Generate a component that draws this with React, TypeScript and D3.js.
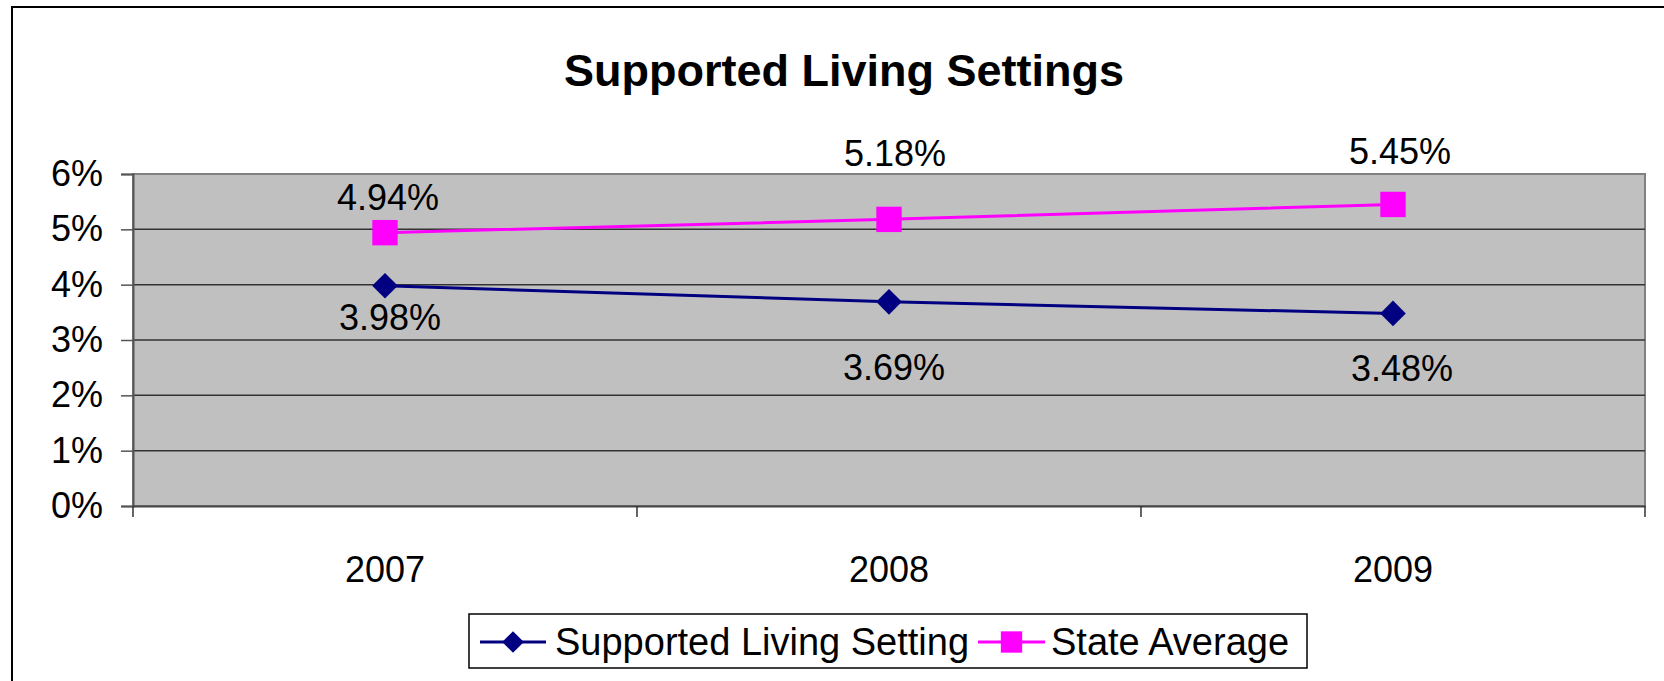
import { useRef, useEffect } from "react";
import * as d3 from "d3";

const years = ["2007", "2008", "2009"];
const supportedLiving = [0.0398, 0.0369, 0.0348];
const stateAverage = [0.0494, 0.0518, 0.0545];
const yTicks = [0, 0.01, 0.02, 0.03, 0.04, 0.05, 0.06];
const seriesNames = ["Supported Living Setting", "State Average"];

// hand-placed label nudges (dx, dy) as in the original sheet
const supportedLabelNudge = [[5, 44], [5, 78], [9, 68]];
const stateLabelNudge = [[3, -23], [6, -53], [7, -40]];

const W = 1664;
const H = 681;
const FONT = "'Liberation Sans', Arial, sans-serif";

const App = () => {
  const ref = useRef<HTMLDivElement>(null);

  useEffect(() => {
    const plot = { left: 133, right: 1645, top: 174, bottom: 506 };

    const svg = d3
      .select(ref.current)
      .html("")
      .append("svg")
      .attr("width", W)
      .attr("height", H)
      .style("display", "block")
      .style("font-family", FONT);

    svg.append("rect").attr("width", W).attr("height", H).attr("fill", "#fff");
    svg
      .append("rect")
      .attr("x", 12)
      .attr("y", 7)
      .attr("width", W)
      .attr("height", H)
      .attr("fill", "none")
      .attr("stroke", "#000")
      .attr("stroke-width", 2);

    svg
      .append("text")
      .attr("x", 844)
      .attr("y", 86)
      .attr("text-anchor", "middle")
      .attr("font-size", 45)
      .attr("font-weight", "bold")
      .text("Supported Living Settings");

    const x = d3.scaleBand().domain(years).range([plot.left, plot.right]).padding(0);
    const y = d3.scaleLinear().domain([0, 0.06]).range([plot.bottom, plot.top]);
    const cx = (d: string) => (x(d) as number) + x.bandwidth() / 2;

    svg
      .append("rect")
      .attr("x", plot.left)
      .attr("y", plot.top)
      .attr("width", plot.right - plot.left)
      .attr("height", plot.bottom - plot.top)
      .attr("fill", "#c0c0c0")
      .attr("stroke", "#808080")
      .attr("stroke-width", 2);

    // gridlines
    svg
      .append("g")
      .selectAll("line")
      .data(yTicks.slice(1, -1))
      .enter()
      .append("line")
      .attr("x1", plot.left)
      .attr("x2", plot.right)
      .attr("y1", (d) => y(d))
      .attr("y2", (d) => y(d))
      .attr("stroke", "#333")
      .attr("stroke-width", 1.5);

    // y axis
    const yAxis = svg
      .append("g")
      .attr("transform", `translate(${plot.left},0)`)
      .call(d3.axisLeft(y).tickValues(yTicks).tickFormat(d3.format(".0%")).tickSize(12).tickPadding(18));
    yAxis.select(".domain").attr("stroke", "#555").attr("stroke-width", 2);
    yAxis.selectAll(".tick line").attr("stroke", "#555").attr("stroke-width", 1.5);
    yAxis
      .selectAll(".tick text")
      .attr("font-size", 36)
      .attr("font-family", FONT)
      .attr("fill", "#000");

    // x axis
    const xAxis = svg
      .append("g")
      .attr("transform", `translate(0,${plot.bottom})`)
      .call(d3.axisBottom(x).tickSize(0).tickPadding(50));
    xAxis.select(".domain").attr("stroke", "#444").attr("stroke-width", 2);
    xAxis.selectAll(".tick text").attr("font-size", 36).attr("font-family", FONT).attr("fill", "#000");
    svg
      .append("g")
      .selectAll("line")
      .data([...years.map((d) => x(d) as number), plot.right])
      .enter()
      .append("line")
      .attr("x1", (d) => d)
      .attr("x2", (d) => d)
      .attr("y1", plot.bottom)
      .attr("y2", plot.bottom + 11)
      .attr("stroke", "#333")
      .attr("stroke-width", 1.5);

    const line = d3
      .line<number>()
      .x((_, i) => cx(years[i]))
      .y((d) => y(d));

    const series = [
      { values: supportedLiving, color: "#000080", shape: "diamond", nudge: supportedLabelNudge },
      { values: stateAverage, color: "#ff00ff", shape: "square", nudge: stateLabelNudge },
    ];

    series.forEach((s) => {
      svg
        .append("path")
        .datum(s.values)
        .attr("d", line)
        .attr("fill", "none")
        .attr("stroke", s.color)
        .attr("stroke-width", 3);

      const sym = s.shape === "diamond" ? d3.symbolDiamond2 : d3.symbolSquare2;
      const size = s.shape === "diamond" ? 420 : 820;
      svg
        .append("g")
        .selectAll("path")
        .data(s.values)
        .enter()
        .append("path")
        .attr("d", d3.symbol(sym, size)() as string)
        .attr("transform", (d, i) => `translate(${cx(years[i])},${y(d)})`)
        .attr("fill", s.color);

      svg
        .append("g")
        .selectAll("text")
        .data(s.values)
        .enter()
        .append("text")
        .attr("x", (d, i) => cx(years[i]) + s.nudge[i][0])
        .attr("y", (d, i) => y(d) + s.nudge[i][1])
        .attr("text-anchor", "middle")
        .attr("font-size", 36)
        .text((d) => d3.format(".2%")(d));
    });

    // legend
    const legend = svg.append("g");
    legend
      .append("rect")
      .attr("x", 469)
      .attr("y", 614)
      .attr("width", 838)
      .attr("height", 54)
      .attr("fill", "#fff")
      .attr("stroke", "#000")
      .attr("stroke-width", 1.5);

    const items = [
      { name: seriesNames[0], color: "#000080", shape: d3.symbolDiamond2, size: 300, x0: 480, x1: 546, tx: 555 },
      { name: seriesNames[1], color: "#ff00ff", shape: d3.symbolSquare2, size: 580, x0: 978, x1: 1045, tx: 1051 },
    ];
    items.forEach((it) => {
      legend
        .append("line")
        .attr("x1", it.x0)
        .attr("x2", it.x1)
        .attr("y1", 642)
        .attr("y2", 642)
        .attr("stroke", it.color)
        .attr("stroke-width", 3);
      legend
        .append("path")
        .attr("d", d3.symbol(it.shape, it.size)() as string)
        .attr("transform", `translate(${(it.x0 + it.x1) / 2},642)`)
        .attr("fill", it.color);
      legend
        .append("text")
        .attr("x", it.tx)
        .attr("y", 655)
        .attr("font-size", 38)
        .text(it.name);
    });
  }, []);

  return <div ref={ref} style={{ position: "absolute", left: 0, top: 0 }} />;
};

export default App;
